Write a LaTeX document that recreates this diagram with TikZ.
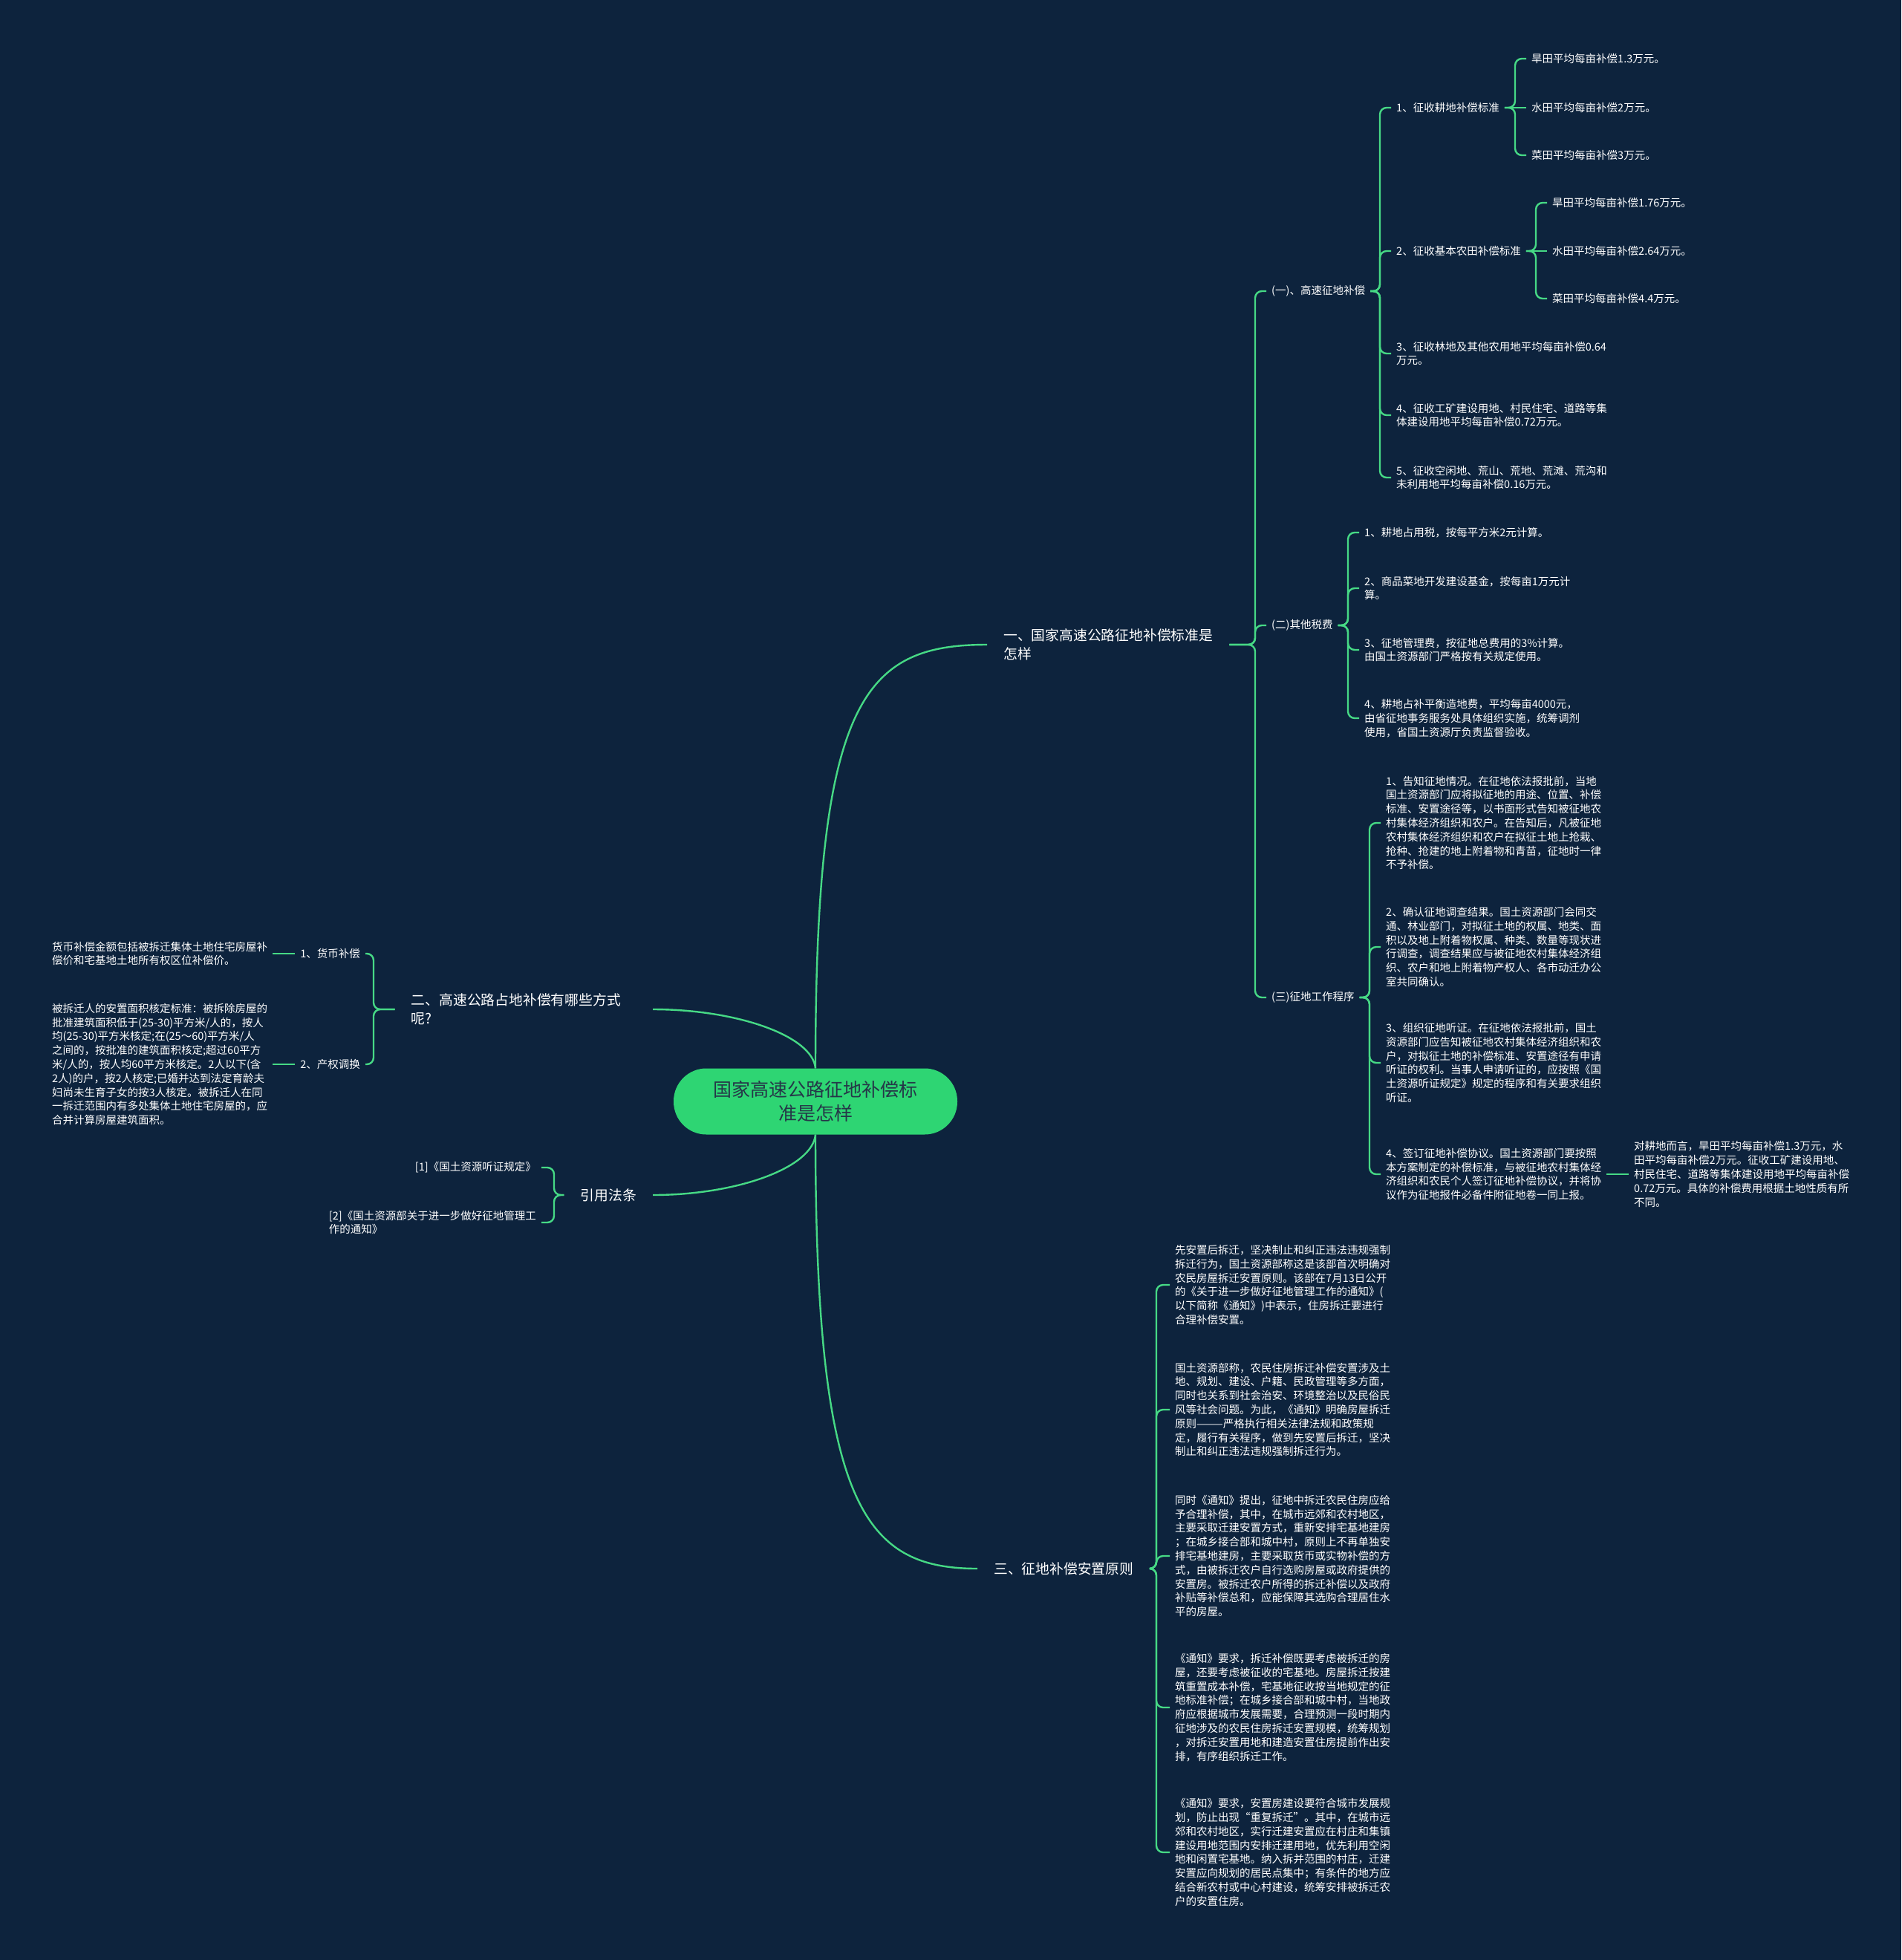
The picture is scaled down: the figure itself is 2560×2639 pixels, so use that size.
\documentclass[tikz,border=0pt]{standalone}
\usepackage{fontspec}
\setmainfont{Noto Sans CJK SC}
\usepackage{xcolor}

\definecolor{bgnavy}{HTML}{0D233D}
\definecolor{linkgreen}{HTML}{46D985}
\definecolor{rootgreen}{HTML}{2ED573}
\definecolor{rootink}{HTML}{253748}

\begin{document}
\begin{tikzpicture}[x=1pt,y=-1pt,
  link/.style={linkgreen,line width=2.4pt,rounded corners=9pt},
  rootbox/.style={fill=rootgreen,rounded corners=44pt,minimum width=382pt,minimum height=89pt,
    align=center,text=rootink,font=\fontsize{25pt}{32pt}\selectfont},
  topic/.style={text=white,align=left,inner xsep=22pt,inner ysep=3pt,anchor=west,
    font=\fontsize{18.8pt}{25pt}\selectfont},
  leaf/.style={text=white,align=left,inner xsep=7pt,inner ysep=2pt,anchor=west,
    font=\fontsize{14.5pt}{18.8pt}\selectfont}]
  \useasboundingbox (0,0) rectangle (2560,2639);
  \fill[bgnavy] (0,0) rectangle (2560,2639);

  % central topic and main branches
  \node[rootbox] (root) at (1098,1483) {国家高速公路征地补偿标\\准是怎样};
  \node[topic] (yi) at (1329,868) {一、国家高速公路征地补偿标准是\\怎样};
  \node[topic,anchor=east,text width=303pt] (er) at (879,1359) {二、高速公路占地补偿有哪些方式\\呢?};
  \node[topic] (san) at (1316,2112) {三、征地补偿安置原则};
  \node[topic,anchor=east] (cite) at (879,1609) {引用法条};

  \draw[link] (root.north) .. controls (1098,943) and (1162,868) .. (yi.west);
  \draw[link] (root.south) .. controls (1098,2025) and (1162,2112) .. (san.west);
  \draw[link] (er.east) .. controls (993,1359) and (1094,1395) .. (root.north);
  \draw[link] (cite.east) .. controls (993,1609) and (1094,1572) .. (root.south);

  % first branch, three parts
  \node[leaf] (yi1) at (1705,392) {(一)、高速征地补偿};
  \node[leaf] (yi2) at (1705,842) {(二)其他税费};
  \node[leaf] (yi3) at (1705,1343) {(三)征地工作程序};
  \draw[link] (yi1.west) -- ++(-15,0) |- (yi.east);
  \draw[link] (yi2.west) -- ++(-15,0) |- (yi.east);
  \draw[link] (yi3.west) -- ++(-15,0) |- (yi.east);

  % (一) compensation
  \node[leaf] (g1) at (1873,145) {1、征收耕地补偿标准};
  \node[leaf] (g2) at (1873,338) {2、征收基本农田补偿标准};
  \node[leaf] (g3) at (1873,476) {3、征收林地及其他农用地平均每亩补偿0.64\\万元。};
  \node[leaf] (g4) at (1873,559) {4、征收工矿建设用地、村民住宅、道路等集\\体建设用地平均每亩补偿0.72万元。};
  \node[leaf] (g5) at (1873,643) {5、征收空闲地、荒山、荒地、荒滩、荒沟和\\未利用地平均每亩补偿0.16万元。};
  \draw[link] (g1.west) -- ++(-15,0) |- (yi1.east);
  \draw[link] (g2.west) -- ++(-15,0) |- (yi1.east);
  \draw[link] (g3.west) -- ++(-15,0) |- (yi1.east);
  \draw[link] (g4.west) -- ++(-15,0) |- (yi1.east);
  \draw[link] (g5.west) -- ++(-15,0) |- (yi1.east);

  \node[leaf] (g1a) at (2055,79) {旱田平均每亩补偿1.3万元。};
  \node[leaf] (g1b) at (2055,145) {水田平均每亩补偿2万元。};
  \node[leaf] (g1c) at (2055,209) {菜田平均每亩补偿3万元。};
  \draw[link] (g1a.west) -- ++(-15,0) |- (g1.east);
  \draw[link] (g1.east) -- (g1b.west);
  \draw[link] (g1c.west) -- ++(-15,0) |- (g1.east);

  \node[leaf] (g2a) at (2083,273) {旱田平均每亩补偿1.76万元。};
  \node[leaf] (g2b) at (2083,338) {水田平均每亩补偿2.64万元。};
  \node[leaf] (g2c) at (2083,402) {菜田平均每亩补偿4.4万元。};
  \draw[link] (g2a.west) -- ++(-15,0) |- (g2.east);
  \draw[link] (g2.east) -- (g2b.west);
  \draw[link] (g2c.west) -- ++(-15,0) |- (g2.east);

  % (二) other fees
  \node[leaf] (t1) at (1830,717) {1、耕地占用税，按每平方米2元计算。};
  \node[leaf] (t2) at (1830,792) {2、商品菜地开发建设基金，按每亩1万元计\\算。};
  \node[leaf] (t3) at (1830,875) {3、征地管理费，按征地总费用的3\%计算。\\由国土资源部门严格按有关规定使用。};
  \node[leaf] (t4) at (1830,967) {4、耕地占补平衡造地费，平均每亩4000元，\\由省征地事务服务处具体组织实施，统筹调剂\\使用，省国土资源厅负责监督验收。};
  \draw[link] (t1.west) -- ++(-15,0) |- (yi2.east);
  \draw[link] (t2.west) -- ++(-15,0) |- (yi2.east);
  \draw[link] (t3.west) -- ++(-15,0) |- (yi2.east);
  \draw[link] (t4.west) -- ++(-15,0) |- (yi2.east);

  % (三) procedure
  \node[leaf] (p1) at (1859,1108) {1、告知征地情况。在征地依法报批前，当地\\国土资源部门应将拟征地的用途、位置、补偿\\标准、安置途径等，以书面形式告知被征地农\\村集体经济组织和农户。在告知后，凡被征地\\农村集体经济组织和农户在拟征土地上抢栽、\\抢种、抢建的地上附着物和青苗，征地时一律\\不予补偿。};
  \node[leaf] (p2) at (1859,1275) {2、确认征地调查结果。国土资源部门会同交\\通、林业部门，对拟征土地的权属、地类、面\\积以及地上附着物权属、种类、数量等现状进\\行调查，调查结果应与被征地农村集体经济组\\织、农户和地上附着物产权人、各市动迁办公\\室共同确认。};
  \node[leaf] (p3) at (1859,1431) {3、组织征地听证。在征地依法报批前，国土\\资源部门应告知被征地农村集体经济组织和农\\户，对拟征土地的补偿标准、安置途径有申请\\听证的权利。当事人申请听证的，应按照《国\\土资源听证规定》规定的程序和有关要求组织\\听证。};
  \node[leaf] (p4) at (1859,1581) {4、签订征地补偿协议。国土资源部门要按照\\本方案制定的补偿标准，与被征地农村集体经\\济组织和农民个人签订征地补偿协议，并将协\\议作为征地报件必备件附征地卷一同上报。};
  \draw[link] (p1.west) -- ++(-15,0) |- (yi3.east);
  \draw[link] (p2.west) -- ++(-15,0) |- (yi3.east);
  \draw[link] (p3.west) -- ++(-15,0) |- (yi3.east);
  \draw[link] (p4.west) -- ++(-15,0) |- (yi3.east);

  \node[leaf] (p4x) at (2193,1581) {对耕地而言，旱田平均每亩补偿1.3万元，水\\田平均每亩补偿2万元。征收工矿建设用地、\\村民住宅、道路等集体建设用地平均每亩补偿\\0.72万元。具体的补偿费用根据土地性质有所\\不同。};
  \draw[link] (p4.east) -- (p4x.west);

  % second branch, left side
  \node[leaf,anchor=east] (h1) at (492,1284) {1、货币补偿};
  \node[leaf,anchor=east] (h2) at (492,1433) {2、产权调换};
  \draw[link] (h1.east) -- ++(11,0) |- (er.west);
  \draw[link] (h2.east) -- ++(11,0) |- (er.west);

  \node[leaf] (h1x) at (63,1284) {货币补偿金额包括被拆迁集体土地住宅房屋补\\偿价和宅基地土地所有权区位补偿价。};
  \node[leaf] (h2x) at (63,1433) {被拆迁人的安置面积核定标准：被拆除房屋的\\批准建筑面积低于(25-30)平方米/人的，按人\\均(25-30)平方米核定;在(25～60)平方米/人\\之间的，按批准的建筑面积核定;超过60平方\\米/人的，按人均60平方米核定。2人以下(含\\2人)的户，按2人核定;已婚并达到法定育龄夫\\妇尚未生育子女的按3人核定。被拆迁人在同\\一拆迁范围内有多处集体土地住宅房屋的，应\\合并计算房屋建筑面积。};
  \draw[link] (h1.west) -- (h1x.east);
  \draw[link] (h2.west) -- (h2x.east);

  % cited rules
  \node[leaf,anchor=east] (c1) at (729,1572) {[1]《国土资源听证规定》};
  \node[leaf,anchor=east] (c2) at (729,1646) {[2]《国土资源部关于进一步做好征地管理工\\作的通知》};
  \draw[link] (c1.east) -- ++(17,0) |- (cite.west);
  \draw[link] (c2.east) -- ++(17,0) |- (cite.west);

  % third branch, resettlement
  \node[leaf] (s1) at (1575,1730) {先安置后拆迁，坚决制止和纠正违法违规强制\\拆迁行为，国土资源部称这是该部首次明确对\\农民房屋拆迁安置原则。该部在7月13日公开\\的《关于进一步做好征地管理工作的通知》(\\以下简称《通知》)中表示，住房拆迁要进行\\合理补偿安置。};
  \node[leaf] (s2) at (1575,1898) {国土资源部称，农民住房拆迁补偿安置涉及土\\地、规划、建设、户籍、民政管理等多方面，\\同时也关系到社会治安、环境整治以及民俗民\\风等社会问题。为此，《通知》明确房屋拆迁\\原则———严格执行相关法律法规和政策规\\定，履行有关程序，做到先安置后拆迁，坚决\\制止和纠正违法违规强制拆迁行为。};
  \node[leaf] (s3) at (1575,2095) {同时《通知》提出，征地中拆迁农民住房应给\\予合理补偿，其中，在城市远郊和农村地区，\\主要采取迁建安置方式，重新安排宅基地建房\\；在城乡接合部和城中村，原则上不再单独安\\排宅基地建房，主要采取货币或实物补偿的方\\式，由被拆迁农户自行选购房屋或政府提供的\\安置房。被拆迁农户所得的拆迁补偿以及政府\\补贴等补偿总和，应能保障其选购合理居住水\\平的房屋。};
  \node[leaf] (s4) at (1575,2299) {《通知》要求，拆迁补偿既要考虑被拆迁的房\\屋，还要考虑被征收的宅基地。房屋拆迁按建\\筑重置成本补偿，宅基地征收按当地规定的征\\地标准补偿；在城乡接合部和城中村，当地政\\府应根据城市发展需要，合理预测一段时期内\\征地涉及的农民住房拆迁安置规模，统筹规划\\，对拆迁安置用地和建造安置住房提前作出安\\排，有序组织拆迁工作。};
  \node[leaf] (s5) at (1575,2494) {《通知》要求，安置房建设要符合城市发展规\\划，防止出现“重复拆迁”。其中，在城市远\\郊和农村地区，实行迁建安置应在村庄和集镇\\建设用地范围内安排迁建用地，优先利用空闲\\地和闲置宅基地。纳入拆并范围的村庄，迁建\\安置应向规划的居民点集中；有条件的地方应\\结合新农村或中心村建设，统筹安排被拆迁农\\户的安置住房。};
  \draw[link] (s1.west) -- ++(-18,0) |- (san.east);
  \draw[link] (s2.west) -- ++(-18,0) |- (san.east);
  \draw[link] (s3.west) -- ++(-18,0) |- (san.east);
  \draw[link] (s4.west) -- ++(-18,0) |- (san.east);
  \draw[link] (s5.west) -- ++(-18,0) |- (san.east);
\end{tikzpicture}
\end{document}
